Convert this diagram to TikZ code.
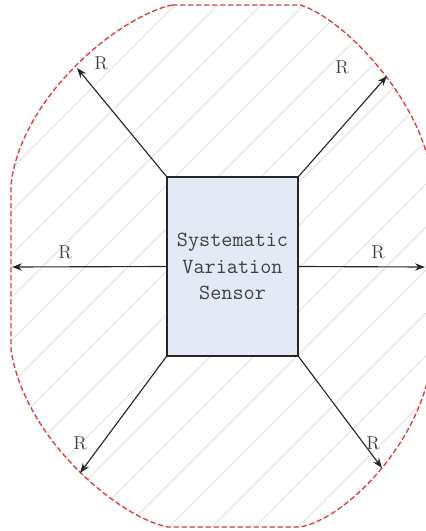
\documentclass[tikz,border=0pt]{standalone}
\usepackage{tikz}
\usetikzlibrary{arrows.meta, positioning}

\definecolor{zonered}{HTML}{D93A3E}
\definecolor{boxblue}{HTML}{E4EAF5}

\newcommand{\zonepath}{(172,5) -- (300,5) .. controls (345,18) and (432,110) .. (432,190)
    -- (432,345) .. controls (432,430) and (350,518) .. (300,527)
    -- (168,527) .. controls (120,518) and (25,440) .. (11,350)
    -- (11,185) .. controls (20,100) and (115,18) .. (172,5) -- cycle}

\begin{document}
\begin{tikzpicture}[
    x=0.75pt, y=-0.75pt,
    zone/.style={draw=zonered, dashed, dash pattern=on 4pt off 2pt, line width=1pt},
    hatch/.style={draw=gray!35, line width=0.5pt},
    sensorbox/.style={draw=black!85, line width=1.1pt, fill=boxblue, minimum width=98pt, minimum height=134pt, align=center, font=\ttfamily\fontsize{16.2}{20}\selectfont, text=black!75},
    radius/.style={-{Stealth[length=7.5pt, width=5.5pt]}, line width=0.85pt, black!85},
    rlbl/.style={font=\fontsize{14}{14}\selectfont, text=black!75}
]
\useasboundingbox (0,0) rectangle (425,531);

% hatched zone
\begin{scope}
  \clip \zonepath;
  \foreach \i in {-575,-532,...,440}
    \draw[hatch] (\i,540) -- ++(540,-540);
\end{scope}
\draw[zone] \zonepath;

% sensor
\node[sensorbox] (sensor) at (232.5,266.5) {Systematic\\Variation\\Sensor};

% ends of the radii
\coordinate (ul) at (77,68);
\coordinate (ur) at (387,76);
\coordinate (ml) at (12,267);
\coordinate (mr) at (425,267);
\coordinate (ll) at (80,473);
\coordinate (lr) at (382,468);

\draw[radius] (sensor.north west) -- (ul);
\draw[radius] (sensor.north east) -- (ur);
\draw[radius] (sensor.west) -- (ml);
\draw[radius] (sensor.east) -- (mr);
\draw[radius] (sensor.south west) -- (ll);
\draw[radius] (sensor.south east) -- (lr);

\node[rlbl] (rul) at (101,63) {R};
\node[rlbl] (rur) at (342,67) {R};
\node[rlbl] (rml) at (65,252) {R};
\node[rlbl] (rmr) at (378,252) {R};
\node[rlbl] (rll) at (80,443) {R};
\node[rlbl] (rlr) at (373,443) {R};
\end{tikzpicture}
\end{document}
